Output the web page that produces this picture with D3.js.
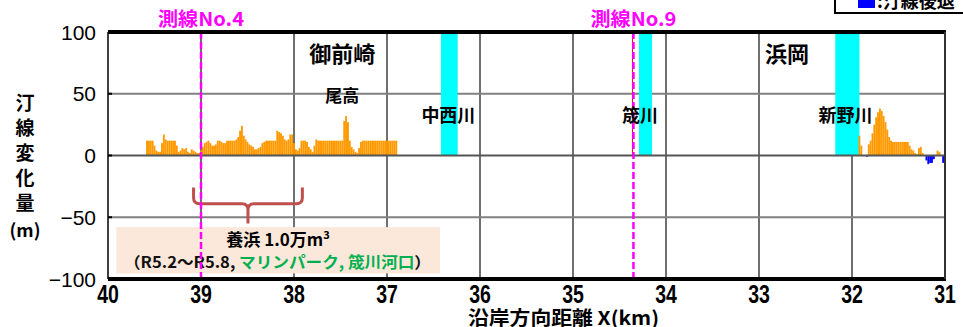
<!DOCTYPE html>
<html><head><meta charset="utf-8">
<script src="https://cdn.jsdelivr.net/npm/d3@7"></script>
<style>html,body{margin:0;padding:0;background:#fff;overflow:hidden}</style>
</head><body>
<svg id="c" width="963" height="327"></svg>
<script>
// Shoreline change (m) along the coast, 20 m spacing, listed from the west end
const seg1StartKm = 39.58;
const seg1Values = [12,12,12,12,8,4,3,3,10,17,13,12,12,12,12,12,8,3,4,6,5,6,3,2,5,4,3,2,2,4,
  7,10,11,12,10,8,8,9,12,12,11,10,10,12,12,12,12,12,13,15,20,24,16,13,11,9,8,7,5,5,
  6,7,10,11,12,12,12,12,12,12,20,19,18,16,13,12,13,17,17,10,5,4,6,12,12,12,11,7,5,3,
  8,13,12,12,12,12,12,12,12,12,12,12,12,12,12,12,28,32,27,12,7,5,3,2,6,11,12,12,12,12,
  12,12,12,12,12,12,12,12,12,12,12,12,12,12,12];
const seg2StartKm = 31.92;
const seg2Values = [16,8,0,0,-1,9,12,18,25,31,35,38,36,32,27,21,15,12,11,11,11,11,11,11,11,11,11,
  8,5,4,2,1,6,7,2,0,-4,-7,-6,-6,-3,0,4,3,0,-6,-5];
const stepKm = 0.02;

const xTicks = [40,39,38,37,36,35,34,33,32,31];
const yTicks = [100,50,0,-50,-100];

// River mouths (km from, km to, name)
const riverNames = ["中西川","筬川","新野川"];
const riverFrom = [36.42,34.29,32.18];
const riverTo = [36.24,34.15,31.92];
const riverLabelKm = [36.34,34.28,32.07];

// Survey lines
const surveyNames = ["測線No.4","測線No.9"];
const surveyKm = [39.0,34.35];

// Place names
const placeNames = ["御前崎","浜岡","尾高"];
const placeKm = [37.48,32.70,37.48];
const placeVal = [76,76,43];

// Nourishment span (km)
const nourishFrom = 39.08, nourishTo = 37.91;

const JP = "'Noto Sans CJK JP','Noto Sans CJK SC',sans-serif";
const LAT = "'Liberation Sans',Arial,sans-serif";

const svg = d3.select("#c");
const x = d3.scaleLinear().domain([40,31]).range([108,945]);
const y = d3.scaleLinear().domain([-100,100]).range([279,32]);

// vertical grid
svg.append("g").selectAll("line").data(xTicks.slice(1,-1)).join("line")
  .attr("x1",d=>x(d)).attr("x2",d=>x(d)).attr("y1",y(100)).attr("y2",y(-100))
  .attr("stroke","#222").attr("stroke-width",1.3);
// horizontal grid
svg.append("g").selectAll("line").data([50,-50]).join("line")
  .attr("x1",x(40)).attr("x2",x(31)).attr("y1",d=>y(d)).attr("y2",d=>y(d))
  .attr("stroke","#808080").attr("stroke-width",2);

// river bands
svg.append("g").selectAll("rect").data(riverFrom).join("rect")
  .attr("x",(d,i)=>x(d)).attr("width",(d,i)=>x(riverTo[i])-x(d))
  .attr("y",y(100)).attr("height",y(0)-y(100)).attr("fill","#00FFFF");

// bars
function bars(startKm, vals){
  const w = x(40-stepKm)-x(40);
  svg.append("g").selectAll("rect").data(vals.map((v,i)=>({km:startKm-i*stepKm,v})).filter(d=>d.v!==0))
    .join("rect")
    .attr("x",d=>x(d.km)-w/2).attr("width",w)
    .attr("y",d=>y(Math.max(0,d.v))).attr("height",d=>Math.abs(y(d.v)-y(0)))
    .attr("fill",d=>d.v>0?"#FF9900":"#0000FF");
}
bars(seg1StartKm, seg1Values);
bars(seg2StartKm, seg2Values);

// zero line
svg.append("line").attr("x1",x(40)).attr("x2",x(31)).attr("y1",y(0)).attr("y2",y(0))
  .attr("stroke","#555").attr("stroke-width",2);

// nourishment note box
svg.append("rect").attr("x",x(39.91)).attr("width",x(36.43)-x(39.91))
  .attr("y",y(-58)).attr("height",y(-95.5)-y(-58)).attr("fill","#FCE8DA");
// bracket
{
  const xl=x(nourishFrom), xr=x(nourishTo), xm=(xl+xr)/2;
  const yt=y(-26), yh=y(-39), yb=y(-55), r=6;
  const p = `M${xl},${yt} L${xl},${yh-r} Q${xl},${yh} ${xl+r},${yh} L${xm-r},${yh} Q${xm},${yh} ${xm},${yh+r} L${xm},${yb}
    M${xm},${yh+r} Q${xm},${yh} ${xm+r},${yh} L${xr-r},${yh} Q${xr},${yh} ${xr},${yh-r} L${xr},${yt}`;
  svg.append("path").attr("d",p).attr("fill","none").attr("stroke","#C0504D").attr("stroke-width",3);
}
const note = svg.append("g").attr("font-family",JP).attr("font-weight","bold");
const t1 = note.append("text").attr("x",278).attr("y",246).attr("text-anchor","middle").attr("font-size",17);
t1.append("tspan").text("養浜 1.0万m");
t1.append("tspan").attr("font-size",11).attr("dy",-7).text("3");
const t2 = note.append("text").attr("x",124).attr("y",268).attr("font-size",15.5)
  .attr("textLength",307).attr("lengthAdjust","spacingAndGlyphs");
t2.append("tspan").attr("fill","#111").text("（R5.2～R5.8, ");
t2.append("tspan").attr("fill","#00B050").text("マリンパーク, 筬川河口");
t2.append("tspan").attr("fill","#111").text("）");

// survey lines
svg.append("line").attr("x1",x(surveyKm[1])-1).attr("x2",x(surveyKm[1])-1).attr("y1",y(100)).attr("y2",y(0))
  .attr("stroke","#FF0000").attr("stroke-width",1);
svg.append("g").selectAll("line").data(surveyKm).join("line")
  .attr("x1",d=>x(d)).attr("x2",d=>x(d)).attr("y1",y(100)).attr("y2",y(-100))
  .attr("stroke","#FF00FF").attr("stroke-width",2.5).attr("stroke-dasharray","7,3");
svg.append("g").selectAll("text").data(surveyKm).join("text")
  .attr("x",d=>x(d)).attr("y",26).attr("text-anchor","middle")
  .attr("font-family",JP).attr("font-weight","bold").attr("font-size",19).attr("fill","#FF00FF")
  .attr("textLength",86).attr("lengthAdjust","spacingAndGlyphs")
  .text((d,i)=>surveyNames[i]);

// frame
svg.append("line").attr("x1",x(40)).attr("x2",x(31)+1).attr("y1",y(100)).attr("y2",y(100))
  .attr("stroke","#000").attr("stroke-width",4);
svg.append("line").attr("x1",x(40)).attr("x2",x(31)+1).attr("y1",y(-100)).attr("y2",y(-100))
  .attr("stroke","#000").attr("stroke-width",4);
svg.append("line").attr("x1",x(40)).attr("x2",x(40)).attr("y1",y(100)).attr("y2",y(-100))
  .attr("stroke","#000").attr("stroke-width",1.5);
svg.append("line").attr("x1",x(31)).attr("x2",x(31)).attr("y1",y(100)).attr("y2",y(-100))
  .attr("stroke","#333").attr("stroke-width",2);

// y axis ticks and labels
svg.append("g").selectAll("line").data(yTicks).join("line")
  .attr("x1",x(40)).attr("x2",x(40)+4).attr("y1",d=>y(d)).attr("y2",d=>y(d))
  .attr("stroke","#000").attr("stroke-width",2);
svg.append("g").selectAll("text").data(yTicks).join("text")
  .attr("x",96).attr("y",d=>y(d)+7.5).attr("text-anchor","end")
  .attr("font-family",LAT).attr("font-size",21).attr("fill","#000")
  .text(d=>d<0?"\u2212"+Math.abs(d):d);

// x axis labels (narrow)
svg.append("g").selectAll("text").data(xTicks).join("text")
  .attr("transform",d=>`translate(${x(d)},303) scale(0.78,1)`).attr("text-anchor","middle")
  .attr("font-family",LAT).attr("font-weight","bold").attr("font-size",25).attr("fill","#000").text(d=>d);

// axis titles
svg.append("text").attr("x",468).attr("y",325).attr("font-family",JP).attr("font-weight","bold")
  .attr("font-size",19).attr("textLength",191).attr("lengthAdjust","spacingAndGlyphs")
  .text("沿岸方向距離 X(km)");
const ylab = ["汀","線","変","化","量"];
svg.append("g").selectAll("text").data(ylab).join("text")
  .attr("x",25).attr("y",(d,i)=>110+i*25).attr("text-anchor","middle")
  .attr("font-family",JP).attr("font-weight","bold").attr("font-size",19).text(d=>d);
svg.append("text").attr("x",25).attr("y",237).attr("text-anchor","middle")
  .attr("font-family",JP).attr("font-weight","bold").attr("font-size",18).text("(m)");

// place and river names
svg.append("g").selectAll("text").data(placeNames).join("text")
  .attr("x",(d,i)=>x(placeKm[i])).attr("y",(d,i)=>y(placeVal[i])).attr("text-anchor","middle")
  .attr("font-family",JP).attr("font-weight","bold").attr("font-size",(d,i)=>i<2?22:17).text(d=>d);
svg.append("g").selectAll("text").data(riverNames).join("text")
  .attr("x",(d,i)=>x(riverLabelKm[i])).attr("y",y(27)).attr("text-anchor","middle")
  .attr("font-family",JP).attr("font-weight","bold").attr("font-size",18).text(d=>d);

// legend (top right)
svg.append("rect").attr("x",835).attr("y",-30).attr("width",170).attr("height",43)
  .attr("fill","#fff").attr("stroke","#000").attr("stroke-width",2);
svg.append("rect").attr("x",858).attr("y",-9).attr("width",17).attr("height",17).attr("fill","#0000FF");
svg.append("text").attr("x",877).attr("y",8).attr("font-family",JP).attr("font-weight","bold")
  .attr("font-size",18).text(":汀線後退");
</script>
</body></html>
